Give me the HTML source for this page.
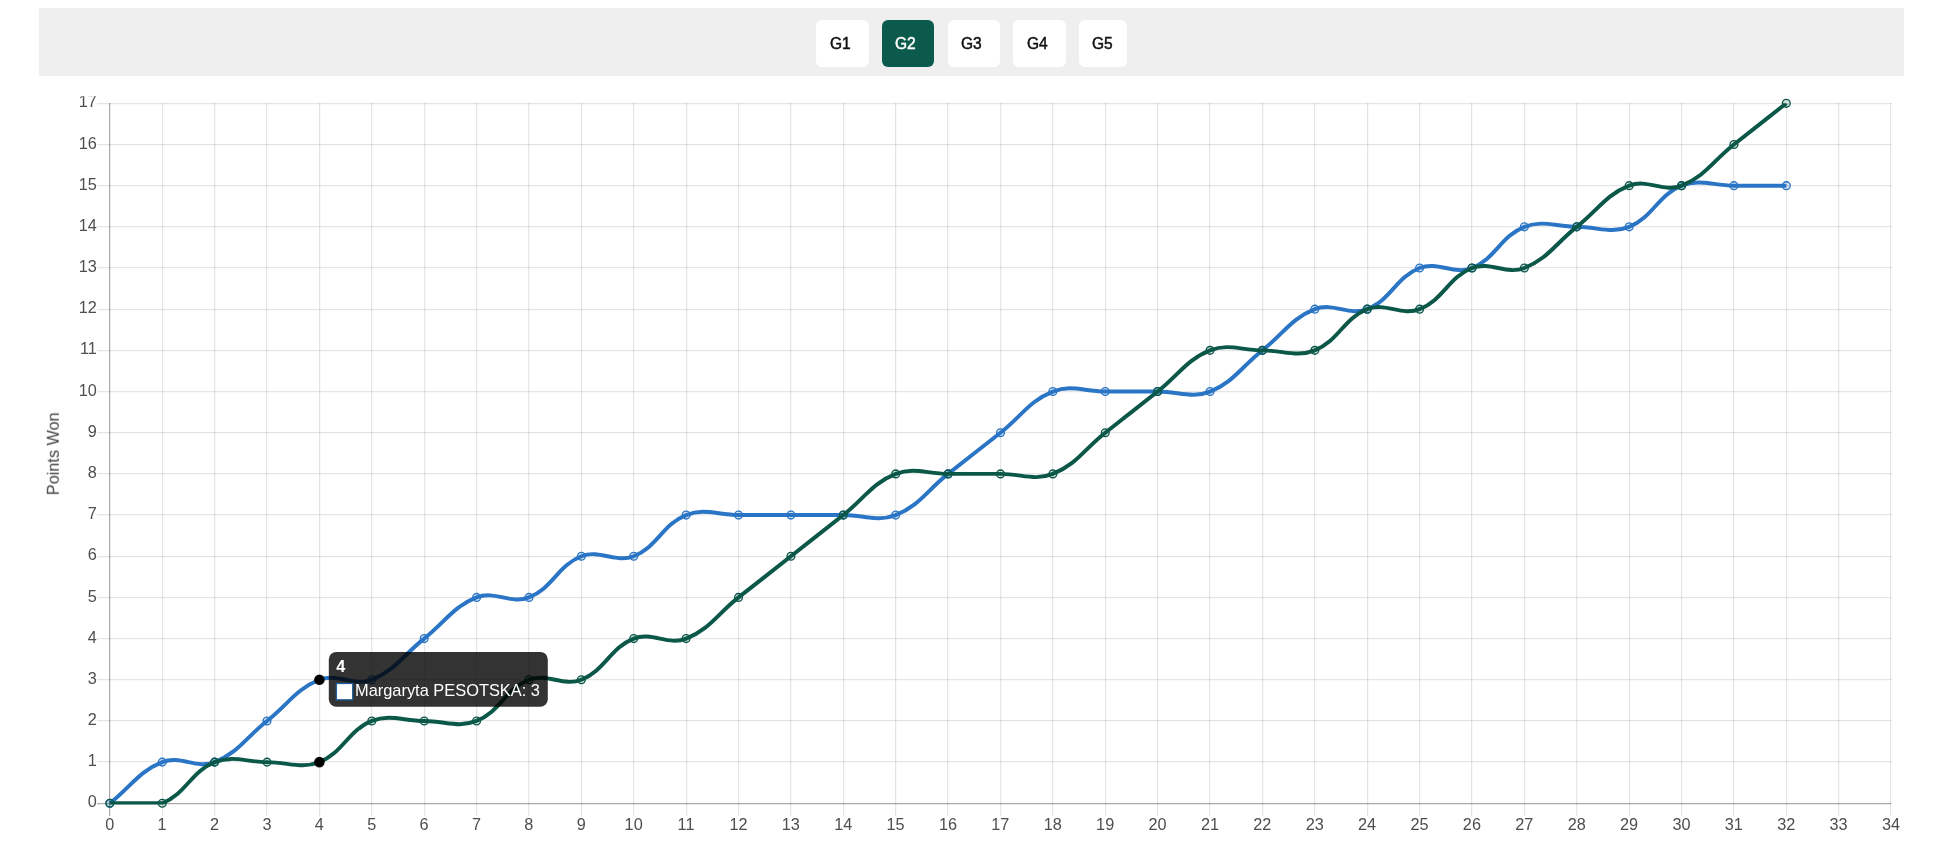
<!DOCTYPE html>
<html lang="en"><head><meta charset="utf-8"><title>Points Won</title>
<style>
html,body{margin:0;padding:0;background:#fff;}
body{width:1940px;height:858px;overflow:hidden;position:relative;font-family:"Liberation Sans",Arial,sans-serif;}
.bar{position:absolute;left:39px;top:8px;width:1865px;height:67.5px;background:#efefef;}
.tab{position:absolute;top:12px;height:47px;width:52.5px;border-radius:6px;background:#fff;color:#111;font-size:16px;line-height:48.8px;text-align:left;}
.tab span{display:inline-block;transform:scaleX(.97);transform-origin:0 50%;position:relative;left:13.5px;-webkit-text-stroke:0.5px currentColor;}
.tab.on{background:#0b5a4b;color:#fff;}
svg{position:absolute;left:0;top:0;}
svg g.tx{filter:grayscale(1)}
.tab span{filter:grayscale(1)}
</style></head><body>
<div class="bar">
<div class="tab" style="left:777px"><span>G1</span></div>
<div class="tab on" style="left:842.7px"><span>G2</span></div>
<div class="tab" style="left:908.5px"><span>G3</span></div>
<div class="tab" style="left:974px"><span>G4</span></div>
<div class="tab" style="left:1039.8px;width:48.2px"><span>G5</span></div>
</div>
<svg width="1940" height="858" viewBox="0 0 1940 858">
<defs><clipPath id="ca"><rect x="107.85" y="103.30" width="1785.26" height="701.20"/></clipPath></defs>
<rect x="109" y="103" width="1.25" height="713.00" fill="rgba(0,0,0,0.33)"/>
<rect x="162" y="103" width="1.25" height="713.00" fill="rgba(0,0,0,0.1)"/>
<rect x="214" y="103" width="1.25" height="713.00" fill="rgba(0,0,0,0.1)"/>
<rect x="266" y="103" width="1.25" height="713.00" fill="rgba(0,0,0,0.1)"/>
<rect x="319" y="103" width="1.25" height="713.00" fill="rgba(0,0,0,0.1)"/>
<rect x="371" y="103" width="1.25" height="713.00" fill="rgba(0,0,0,0.1)"/>
<rect x="424" y="103" width="1.25" height="713.00" fill="rgba(0,0,0,0.1)"/>
<rect x="476" y="103" width="1.25" height="713.00" fill="rgba(0,0,0,0.1)"/>
<rect x="528" y="103" width="1.25" height="713.00" fill="rgba(0,0,0,0.1)"/>
<rect x="581" y="103" width="1.25" height="713.00" fill="rgba(0,0,0,0.1)"/>
<rect x="633" y="103" width="1.25" height="713.00" fill="rgba(0,0,0,0.1)"/>
<rect x="686" y="103" width="1.25" height="713.00" fill="rgba(0,0,0,0.1)"/>
<rect x="738" y="103" width="1.25" height="713.00" fill="rgba(0,0,0,0.1)"/>
<rect x="790" y="103" width="1.25" height="713.00" fill="rgba(0,0,0,0.1)"/>
<rect x="843" y="103" width="1.25" height="713.00" fill="rgba(0,0,0,0.1)"/>
<rect x="895" y="103" width="1.25" height="713.00" fill="rgba(0,0,0,0.1)"/>
<rect x="947" y="103" width="1.25" height="713.00" fill="rgba(0,0,0,0.1)"/>
<rect x="1000" y="103" width="1.25" height="713.00" fill="rgba(0,0,0,0.1)"/>
<rect x="1052" y="103" width="1.25" height="713.00" fill="rgba(0,0,0,0.1)"/>
<rect x="1105" y="103" width="1.25" height="713.00" fill="rgba(0,0,0,0.1)"/>
<rect x="1157" y="103" width="1.25" height="713.00" fill="rgba(0,0,0,0.1)"/>
<rect x="1209" y="103" width="1.25" height="713.00" fill="rgba(0,0,0,0.1)"/>
<rect x="1262" y="103" width="1.25" height="713.00" fill="rgba(0,0,0,0.1)"/>
<rect x="1314" y="103" width="1.25" height="713.00" fill="rgba(0,0,0,0.1)"/>
<rect x="1367" y="103" width="1.25" height="713.00" fill="rgba(0,0,0,0.1)"/>
<rect x="1419" y="103" width="1.25" height="713.00" fill="rgba(0,0,0,0.1)"/>
<rect x="1471" y="103" width="1.25" height="713.00" fill="rgba(0,0,0,0.1)"/>
<rect x="1524" y="103" width="1.25" height="713.00" fill="rgba(0,0,0,0.1)"/>
<rect x="1576" y="103" width="1.25" height="713.00" fill="rgba(0,0,0,0.1)"/>
<rect x="1629" y="103" width="1.25" height="713.00" fill="rgba(0,0,0,0.1)"/>
<rect x="1681" y="103" width="1.25" height="713.00" fill="rgba(0,0,0,0.1)"/>
<rect x="1733" y="103" width="1.25" height="713.00" fill="rgba(0,0,0,0.1)"/>
<rect x="1786" y="103" width="1.25" height="713.00" fill="rgba(0,0,0,0.1)"/>
<rect x="1838" y="103" width="1.25" height="713.00" fill="rgba(0,0,0,0.1)"/>
<rect x="1890" y="103" width="1.25" height="713.00" fill="rgba(0,0,0,0.1)"/>
<rect x="97" y="803" width="1794.25" height="1.25" fill="rgba(0,0,0,0.33)"/>
<rect x="97" y="761" width="1794.25" height="1.25" fill="rgba(0,0,0,0.1)"/>
<rect x="97" y="720" width="1794.25" height="1.25" fill="rgba(0,0,0,0.1)"/>
<rect x="97" y="679" width="1794.25" height="1.25" fill="rgba(0,0,0,0.1)"/>
<rect x="97" y="638" width="1794.25" height="1.25" fill="rgba(0,0,0,0.1)"/>
<rect x="97" y="597" width="1794.25" height="1.25" fill="rgba(0,0,0,0.1)"/>
<rect x="97" y="556" width="1794.25" height="1.25" fill="rgba(0,0,0,0.1)"/>
<rect x="97" y="514" width="1794.25" height="1.25" fill="rgba(0,0,0,0.1)"/>
<rect x="97" y="473" width="1794.25" height="1.25" fill="rgba(0,0,0,0.1)"/>
<rect x="97" y="432" width="1794.25" height="1.25" fill="rgba(0,0,0,0.1)"/>
<rect x="97" y="391" width="1794.25" height="1.25" fill="rgba(0,0,0,0.1)"/>
<rect x="97" y="350" width="1794.25" height="1.25" fill="rgba(0,0,0,0.1)"/>
<rect x="97" y="309" width="1794.25" height="1.25" fill="rgba(0,0,0,0.1)"/>
<rect x="97" y="267" width="1794.25" height="1.25" fill="rgba(0,0,0,0.1)"/>
<rect x="97" y="226" width="1794.25" height="1.25" fill="rgba(0,0,0,0.1)"/>
<rect x="97" y="185" width="1794.25" height="1.25" fill="rgba(0,0,0,0.1)"/>
<rect x="97" y="144" width="1794.25" height="1.25" fill="rgba(0,0,0,0.1)"/>
<rect x="97" y="103" width="1794.25" height="1.25" fill="rgba(0,0,0,0.1)"/>

<g class="tx" font-family="Liberation Sans, Arial, sans-serif" font-size="16.25" fill="#4e4e4e"><text x="109.75" y="830.00" text-anchor="middle">0</text>
<text x="162.14" y="830.00" text-anchor="middle">1</text>
<text x="214.53" y="830.00" text-anchor="middle">2</text>
<text x="266.92" y="830.00" text-anchor="middle">3</text>
<text x="319.31" y="830.00" text-anchor="middle">4</text>
<text x="371.70" y="830.00" text-anchor="middle">5</text>
<text x="424.09" y="830.00" text-anchor="middle">6</text>
<text x="476.48" y="830.00" text-anchor="middle">7</text>
<text x="528.87" y="830.00" text-anchor="middle">8</text>
<text x="581.26" y="830.00" text-anchor="middle">9</text>
<text x="633.65" y="830.00" text-anchor="middle">10</text>
<text x="686.04" y="830.00" text-anchor="middle">11</text>
<text x="738.43" y="830.00" text-anchor="middle">12</text>
<text x="790.82" y="830.00" text-anchor="middle">13</text>
<text x="843.21" y="830.00" text-anchor="middle">14</text>
<text x="895.60" y="830.00" text-anchor="middle">15</text>
<text x="947.99" y="830.00" text-anchor="middle">16</text>
<text x="1000.38" y="830.00" text-anchor="middle">17</text>
<text x="1052.77" y="830.00" text-anchor="middle">18</text>
<text x="1105.16" y="830.00" text-anchor="middle">19</text>
<text x="1157.55" y="830.00" text-anchor="middle">20</text>
<text x="1209.94" y="830.00" text-anchor="middle">21</text>
<text x="1262.33" y="830.00" text-anchor="middle">22</text>
<text x="1314.72" y="830.00" text-anchor="middle">23</text>
<text x="1367.11" y="830.00" text-anchor="middle">24</text>
<text x="1419.50" y="830.00" text-anchor="middle">25</text>
<text x="1471.89" y="830.00" text-anchor="middle">26</text>
<text x="1524.28" y="830.00" text-anchor="middle">27</text>
<text x="1576.67" y="830.00" text-anchor="middle">28</text>
<text x="1629.06" y="830.00" text-anchor="middle">29</text>
<text x="1681.45" y="830.00" text-anchor="middle">30</text>
<text x="1733.84" y="830.00" text-anchor="middle">31</text>
<text x="1786.23" y="830.00" text-anchor="middle">32</text>
<text x="1838.62" y="830.00" text-anchor="middle">33</text>
<text x="1891.01" y="830.00" text-anchor="middle">34</text>
<text x="96.75" y="807.40" text-anchor="end">0</text>
<text x="96.75" y="766.22" text-anchor="end">1</text>
<text x="96.75" y="725.05" text-anchor="end">2</text>
<text x="96.75" y="683.87" text-anchor="end">3</text>
<text x="96.75" y="642.69" text-anchor="end">4</text>
<text x="96.75" y="601.52" text-anchor="end">5</text>
<text x="96.75" y="560.34" text-anchor="end">6</text>
<text x="96.75" y="519.16" text-anchor="end">7</text>
<text x="96.75" y="477.99" text-anchor="end">8</text>
<text x="96.75" y="436.81" text-anchor="end">9</text>
<text x="96.75" y="395.64" text-anchor="end">10</text>
<text x="96.75" y="354.46" text-anchor="end">11</text>
<text x="96.75" y="313.28" text-anchor="end">12</text>
<text x="96.75" y="272.11" text-anchor="end">13</text>
<text x="96.75" y="230.93" text-anchor="end">14</text>
<text x="96.75" y="189.75" text-anchor="end">15</text>
<text x="96.75" y="148.58" text-anchor="end">16</text>
<text x="96.75" y="107.40" text-anchor="end">17</text>
<text transform="translate(58.8,453.7) rotate(-90)" text-anchor="middle" fill="#404040">Points Won</text>
</g>
<rect x="60" y="84" width="40" height="12.3" fill="#fff"/>
<path clip-path="url(#ca)" d="M109.85 803.30 C130.81 786.83 138.78 771.34 162.24 762.12 C180.69 754.87 196.18 769.37 214.63 762.12 C238.09 752.90 246.06 737.42 267.02 720.95 C287.98 704.48 295.95 688.99 319.41 679.77 C337.86 672.52 353.35 687.02 371.80 679.77 C395.26 670.55 403.23 655.06 424.19 638.59 C445.15 622.12 453.12 606.64 476.58 597.42 C495.03 590.17 510.52 604.67 528.97 597.42 C552.43 588.20 557.90 565.46 581.36 556.24 C599.81 548.99 615.30 563.49 633.75 556.24 C657.21 547.02 662.68 524.29 686.14 515.06 C704.59 507.82 717.57 515.06 738.53 515.06 C759.49 515.06 769.96 515.06 790.92 515.06 C811.88 515.06 822.35 515.06 843.31 515.06 C864.27 515.06 877.25 522.31 895.70 515.06 C919.16 505.84 927.13 490.36 948.09 473.89 C969.05 457.42 979.52 449.18 1000.48 432.71 C1021.44 416.24 1029.41 400.76 1052.87 391.54 C1071.32 384.29 1084.30 391.54 1105.26 391.54 C1126.22 391.54 1136.69 391.54 1157.65 391.54 C1178.61 391.54 1191.59 398.78 1210.04 391.54 C1233.50 382.31 1241.47 366.83 1262.43 350.36 C1283.39 333.89 1291.36 318.40 1314.82 309.18 C1333.27 301.93 1348.76 316.43 1367.21 309.18 C1390.67 299.96 1396.14 277.23 1419.60 268.01 C1438.05 260.76 1453.54 275.26 1471.99 268.01 C1495.45 258.78 1500.92 236.05 1524.38 226.83 C1542.83 219.58 1555.81 226.83 1576.77 226.83 C1597.73 226.83 1610.71 234.08 1629.16 226.83 C1652.62 217.61 1658.09 194.87 1681.55 185.65 C1700.00 178.40 1712.98 185.65 1733.94 185.65 C1754.90 185.65 1765.37 185.65 1786.33 185.65" fill="none" stroke="#2a75c5" stroke-width="3.95" stroke-linejoin="miter" stroke-linecap="butt"/>
<circle cx="109.85" cy="803.30" r="3.9" fill="#2a75c5" fill-opacity="0.18" stroke="#2a75c5" stroke-width="1.35"/>
<circle cx="162.24" cy="762.12" r="3.9" fill="#2a75c5" fill-opacity="0.18" stroke="#2a75c5" stroke-width="1.35"/>
<circle cx="214.63" cy="762.12" r="3.9" fill="#2a75c5" fill-opacity="0.18" stroke="#2a75c5" stroke-width="1.35"/>
<circle cx="267.02" cy="720.95" r="3.9" fill="#2a75c5" fill-opacity="0.18" stroke="#2a75c5" stroke-width="1.35"/>
<circle cx="319.41" cy="679.77" r="4.7" fill="#000" stroke="#000" stroke-opacity="0.9" stroke-width="1.25"/>
<circle cx="371.80" cy="679.77" r="3.9" fill="#2a75c5" fill-opacity="0.18" stroke="#2a75c5" stroke-width="1.35"/>
<circle cx="424.19" cy="638.59" r="3.9" fill="#2a75c5" fill-opacity="0.18" stroke="#2a75c5" stroke-width="1.35"/>
<circle cx="476.58" cy="597.42" r="3.9" fill="#2a75c5" fill-opacity="0.18" stroke="#2a75c5" stroke-width="1.35"/>
<circle cx="528.97" cy="597.42" r="3.9" fill="#2a75c5" fill-opacity="0.18" stroke="#2a75c5" stroke-width="1.35"/>
<circle cx="581.36" cy="556.24" r="3.9" fill="#2a75c5" fill-opacity="0.18" stroke="#2a75c5" stroke-width="1.35"/>
<circle cx="633.75" cy="556.24" r="3.9" fill="#2a75c5" fill-opacity="0.18" stroke="#2a75c5" stroke-width="1.35"/>
<circle cx="686.14" cy="515.06" r="3.9" fill="#2a75c5" fill-opacity="0.18" stroke="#2a75c5" stroke-width="1.35"/>
<circle cx="738.53" cy="515.06" r="3.9" fill="#2a75c5" fill-opacity="0.18" stroke="#2a75c5" stroke-width="1.35"/>
<circle cx="790.92" cy="515.06" r="3.9" fill="#2a75c5" fill-opacity="0.18" stroke="#2a75c5" stroke-width="1.35"/>
<circle cx="843.31" cy="515.06" r="3.9" fill="#2a75c5" fill-opacity="0.18" stroke="#2a75c5" stroke-width="1.35"/>
<circle cx="895.70" cy="515.06" r="3.9" fill="#2a75c5" fill-opacity="0.18" stroke="#2a75c5" stroke-width="1.35"/>
<circle cx="948.09" cy="473.89" r="3.9" fill="#2a75c5" fill-opacity="0.18" stroke="#2a75c5" stroke-width="1.35"/>
<circle cx="1000.48" cy="432.71" r="3.9" fill="#2a75c5" fill-opacity="0.18" stroke="#2a75c5" stroke-width="1.35"/>
<circle cx="1052.87" cy="391.54" r="3.9" fill="#2a75c5" fill-opacity="0.18" stroke="#2a75c5" stroke-width="1.35"/>
<circle cx="1105.26" cy="391.54" r="3.9" fill="#2a75c5" fill-opacity="0.18" stroke="#2a75c5" stroke-width="1.35"/>
<circle cx="1157.65" cy="391.54" r="3.9" fill="#2a75c5" fill-opacity="0.18" stroke="#2a75c5" stroke-width="1.35"/>
<circle cx="1210.04" cy="391.54" r="3.9" fill="#2a75c5" fill-opacity="0.18" stroke="#2a75c5" stroke-width="1.35"/>
<circle cx="1262.43" cy="350.36" r="3.9" fill="#2a75c5" fill-opacity="0.18" stroke="#2a75c5" stroke-width="1.35"/>
<circle cx="1314.82" cy="309.18" r="3.9" fill="#2a75c5" fill-opacity="0.18" stroke="#2a75c5" stroke-width="1.35"/>
<circle cx="1367.21" cy="309.18" r="3.9" fill="#2a75c5" fill-opacity="0.18" stroke="#2a75c5" stroke-width="1.35"/>
<circle cx="1419.60" cy="268.01" r="3.9" fill="#2a75c5" fill-opacity="0.18" stroke="#2a75c5" stroke-width="1.35"/>
<circle cx="1471.99" cy="268.01" r="3.9" fill="#2a75c5" fill-opacity="0.18" stroke="#2a75c5" stroke-width="1.35"/>
<circle cx="1524.38" cy="226.83" r="3.9" fill="#2a75c5" fill-opacity="0.18" stroke="#2a75c5" stroke-width="1.35"/>
<circle cx="1576.77" cy="226.83" r="3.9" fill="#2a75c5" fill-opacity="0.18" stroke="#2a75c5" stroke-width="1.35"/>
<circle cx="1629.16" cy="226.83" r="3.9" fill="#2a75c5" fill-opacity="0.18" stroke="#2a75c5" stroke-width="1.35"/>
<circle cx="1681.55" cy="185.65" r="3.9" fill="#2a75c5" fill-opacity="0.18" stroke="#2a75c5" stroke-width="1.35"/>
<circle cx="1733.94" cy="185.65" r="3.9" fill="#2a75c5" fill-opacity="0.18" stroke="#2a75c5" stroke-width="1.35"/>
<circle cx="1786.33" cy="185.65" r="3.9" fill="#2a75c5" fill-opacity="0.18" stroke="#2a75c5" stroke-width="1.35"/>

<path clip-path="url(#ca)" d="M109.85 803.30 C130.81 803.30 143.79 803.30 162.24 803.30 C185.70 794.08 191.17 771.34 214.63 762.12 C233.08 754.87 246.06 762.12 267.02 762.12 C287.98 762.12 300.96 769.37 319.41 762.12 C342.87 752.90 348.34 730.17 371.80 720.95 C390.25 713.70 403.23 720.95 424.19 720.95 C445.15 720.95 458.13 728.20 476.58 720.95 C500.04 711.73 505.51 688.99 528.97 679.77 C547.42 672.52 562.91 687.02 581.36 679.77 C604.82 670.55 610.29 647.82 633.75 638.59 C652.20 631.34 667.69 645.84 686.14 638.59 C709.60 629.37 717.57 613.89 738.53 597.42 C759.49 580.95 769.96 572.71 790.92 556.24 C811.88 539.77 822.35 531.54 843.31 515.06 C864.27 498.59 872.24 483.11 895.70 473.89 C914.15 466.64 927.13 473.89 948.09 473.89 C969.05 473.89 979.52 473.89 1000.48 473.89 C1021.44 473.89 1034.42 481.14 1052.87 473.89 C1076.33 464.67 1084.30 449.18 1105.26 432.71 C1126.22 416.24 1136.69 408.01 1157.65 391.54 C1178.61 375.06 1186.58 359.58 1210.04 350.36 C1228.49 343.11 1241.47 350.36 1262.43 350.36 C1283.39 350.36 1296.37 357.61 1314.82 350.36 C1338.28 341.14 1343.75 318.40 1367.21 309.18 C1385.66 301.93 1401.15 316.43 1419.60 309.18 C1443.06 299.96 1448.53 277.23 1471.99 268.01 C1490.44 260.76 1505.93 275.26 1524.38 268.01 C1547.84 258.78 1555.81 243.30 1576.77 226.83 C1597.73 210.36 1605.70 194.87 1629.16 185.65 C1647.61 178.40 1663.10 192.90 1681.55 185.65 C1705.01 176.43 1712.98 160.95 1733.94 144.48 C1754.90 128.01 1765.37 119.77 1786.33 103.30" fill="none" stroke="#0b5748" stroke-width="3.95" stroke-linejoin="miter" stroke-linecap="butt"/>
<circle cx="109.85" cy="803.30" r="3.9" fill="#0b5748" fill-opacity="0.18" stroke="#0b5748" stroke-width="1.35"/>
<circle cx="162.24" cy="803.30" r="3.9" fill="#0b5748" fill-opacity="0.18" stroke="#0b5748" stroke-width="1.35"/>
<circle cx="214.63" cy="762.12" r="3.9" fill="#0b5748" fill-opacity="0.18" stroke="#0b5748" stroke-width="1.35"/>
<circle cx="267.02" cy="762.12" r="3.9" fill="#0b5748" fill-opacity="0.18" stroke="#0b5748" stroke-width="1.35"/>
<circle cx="319.41" cy="762.12" r="4.7" fill="#000" stroke="#000" stroke-opacity="0.9" stroke-width="1.25"/>
<circle cx="371.80" cy="720.95" r="3.9" fill="#0b5748" fill-opacity="0.18" stroke="#0b5748" stroke-width="1.35"/>
<circle cx="424.19" cy="720.95" r="3.9" fill="#0b5748" fill-opacity="0.18" stroke="#0b5748" stroke-width="1.35"/>
<circle cx="476.58" cy="720.95" r="3.9" fill="#0b5748" fill-opacity="0.18" stroke="#0b5748" stroke-width="1.35"/>
<circle cx="528.97" cy="679.77" r="3.9" fill="#0b5748" fill-opacity="0.18" stroke="#0b5748" stroke-width="1.35"/>
<circle cx="581.36" cy="679.77" r="3.9" fill="#0b5748" fill-opacity="0.18" stroke="#0b5748" stroke-width="1.35"/>
<circle cx="633.75" cy="638.59" r="3.9" fill="#0b5748" fill-opacity="0.18" stroke="#0b5748" stroke-width="1.35"/>
<circle cx="686.14" cy="638.59" r="3.9" fill="#0b5748" fill-opacity="0.18" stroke="#0b5748" stroke-width="1.35"/>
<circle cx="738.53" cy="597.42" r="3.9" fill="#0b5748" fill-opacity="0.18" stroke="#0b5748" stroke-width="1.35"/>
<circle cx="790.92" cy="556.24" r="3.9" fill="#0b5748" fill-opacity="0.18" stroke="#0b5748" stroke-width="1.35"/>
<circle cx="843.31" cy="515.06" r="3.9" fill="#0b5748" fill-opacity="0.18" stroke="#0b5748" stroke-width="1.35"/>
<circle cx="895.70" cy="473.89" r="3.9" fill="#0b5748" fill-opacity="0.18" stroke="#0b5748" stroke-width="1.35"/>
<circle cx="948.09" cy="473.89" r="3.9" fill="#0b5748" fill-opacity="0.18" stroke="#0b5748" stroke-width="1.35"/>
<circle cx="1000.48" cy="473.89" r="3.9" fill="#0b5748" fill-opacity="0.18" stroke="#0b5748" stroke-width="1.35"/>
<circle cx="1052.87" cy="473.89" r="3.9" fill="#0b5748" fill-opacity="0.18" stroke="#0b5748" stroke-width="1.35"/>
<circle cx="1105.26" cy="432.71" r="3.9" fill="#0b5748" fill-opacity="0.18" stroke="#0b5748" stroke-width="1.35"/>
<circle cx="1157.65" cy="391.54" r="3.9" fill="#0b5748" fill-opacity="0.18" stroke="#0b5748" stroke-width="1.35"/>
<circle cx="1210.04" cy="350.36" r="3.9" fill="#0b5748" fill-opacity="0.18" stroke="#0b5748" stroke-width="1.35"/>
<circle cx="1262.43" cy="350.36" r="3.9" fill="#0b5748" fill-opacity="0.18" stroke="#0b5748" stroke-width="1.35"/>
<circle cx="1314.82" cy="350.36" r="3.9" fill="#0b5748" fill-opacity="0.18" stroke="#0b5748" stroke-width="1.35"/>
<circle cx="1367.21" cy="309.18" r="3.9" fill="#0b5748" fill-opacity="0.18" stroke="#0b5748" stroke-width="1.35"/>
<circle cx="1419.60" cy="309.18" r="3.9" fill="#0b5748" fill-opacity="0.18" stroke="#0b5748" stroke-width="1.35"/>
<circle cx="1471.99" cy="268.01" r="3.9" fill="#0b5748" fill-opacity="0.18" stroke="#0b5748" stroke-width="1.35"/>
<circle cx="1524.38" cy="268.01" r="3.9" fill="#0b5748" fill-opacity="0.18" stroke="#0b5748" stroke-width="1.35"/>
<circle cx="1576.77" cy="226.83" r="3.9" fill="#0b5748" fill-opacity="0.18" stroke="#0b5748" stroke-width="1.35"/>
<circle cx="1629.16" cy="185.65" r="3.9" fill="#0b5748" fill-opacity="0.18" stroke="#0b5748" stroke-width="1.35"/>
<circle cx="1681.55" cy="185.65" r="3.9" fill="#0b5748" fill-opacity="0.18" stroke="#0b5748" stroke-width="1.35"/>
<circle cx="1733.94" cy="144.48" r="3.9" fill="#0b5748" fill-opacity="0.18" stroke="#0b5748" stroke-width="1.35"/>
<circle cx="1786.33" cy="103.30" r="3.9" fill="#0b5748" fill-opacity="0.18" stroke="#0b5748" stroke-width="1.35"/>

<rect x="328.8" y="651.9" width="219" height="54.9" rx="7.5" fill="rgba(0,0,0,0.8)"/>
<rect x="336.4" y="683.5" width="16.25" height="16.25" fill="#fff" stroke="#22609f" stroke-width="1.25"/>

<g class="tx" font-family="Liberation Sans, Arial, sans-serif" font-size="16.25"><text x="336.3" y="672.2" font-weight="bold" fill="#fff">4</text>
<text x="355" y="695.7" font-size="16.4" fill="#fff">Margaryta PESOTSKA: 3</text>
</g>
</svg>
</body></html>
